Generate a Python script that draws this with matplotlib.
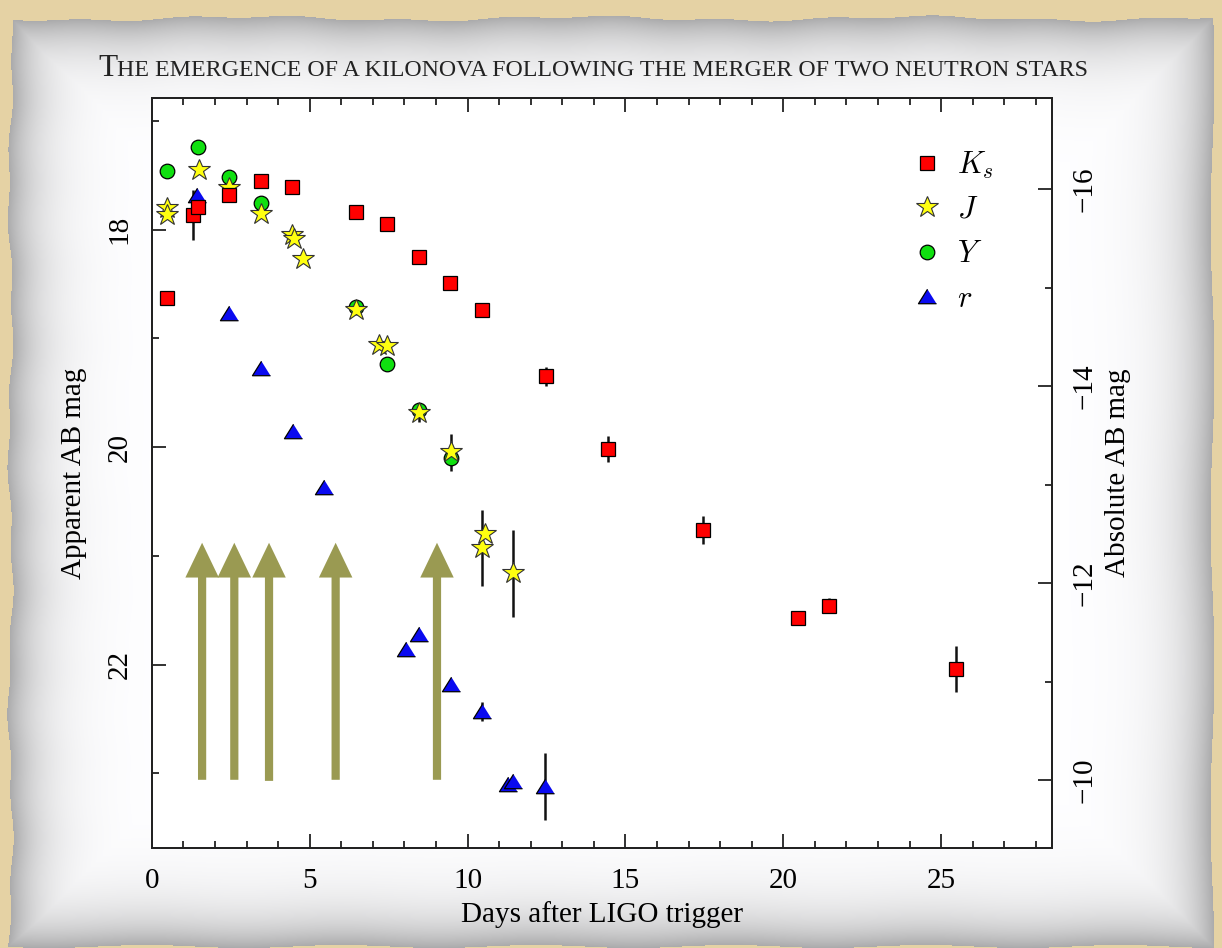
import numpy as np
import matplotlib
matplotlib.use("Agg")
import matplotlib.pyplot as plt
from matplotlib.patches import FancyArrow

plt.rcParams['font.family'] = ['Liberation Serif', 'DejaVu Serif']
plt.rcParams['mathtext.fontset'] = 'cm'

# ---- data ----
ks_days = [0.47, 1.31, 1.47, 2.45, 3.46, 4.45, 6.47, 7.46, 8.45, 9.44, 10.45,
           12.47, 14.45, 17.45, 20.45, 21.44, 25.47]
ks_mag = [18.63, 17.87, 17.79, 17.68, 17.55, 17.61, 17.84, 17.95, 18.25, 18.49, 18.74,
          19.35, 20.02, 20.76, 21.57, 21.46, 22.04]
ks_err = [0, 0.23, 0, 0, 0, 0, 0, 0, 0, 0, 0,
          0.09, 0.12, 0.13, 0, 0.07, 0.21]

j_days = [0.47, 0.49, 1.50, 2.45, 3.47, 4.43, 4.49, 4.80, 6.47, 7.20, 7.46,
          8.47, 9.47, 10.45, 10.55, 11.45]
j_mag = [17.80, 17.87, 17.45, 17.62, 17.86, 18.05, 18.09, 18.27, 18.74, 19.06, 19.07,
         19.69, 20.05, 20.93, 20.80, 21.16]
j_err = [0, 0, 0, 0, 0, 0, 0, 0, 0, 0, 0,
         0.08, 0.17, 0.35, 0, 0.40]

y_days = [0.47, 1.47, 2.45, 3.47, 6.47, 7.46, 8.47, 9.47]
y_mag = [17.46, 17.24, 17.52, 17.76, 18.71, 19.24, 19.66, 20.10]

r_days = [1.44, 2.45, 3.45, 4.46, 5.45, 8.05, 8.47, 9.46, 10.47, 11.29, 11.45, 12.45]
r_mag = [17.68, 18.77, 19.27, 19.85, 20.37, 21.86, 21.72, 22.18, 22.43, 23.10, 23.07, 23.12]
r_err = [0, 0, 0, 0, 0, 0, 0, 0, 0.09, 0, 0, 0.31]

# spectra epochs (olive arrows)
arrow_days = [1.59, 2.61, 3.71, 5.82, 9.03]
arrow_base = [23.06, 23.06, 23.07, 23.06, 23.06]
arrow_tip = 20.88

W, H = 1222, 948
fig = plt.figure(figsize=(W / 100, H / 100), dpi=100)

# ---- paper background ----
bg = fig.add_axes([0, 0, 1, 1])
bg.axis('off')
yy, xx = np.mgrid[0:H, 0:W].astype(float)
top = 18 + 2 * np.sin(xx / 53.0) + 1.2 * np.sin(xx / 17.0)
left = 10 + 2 * np.sin(yy / 41.0) + 1.2 * np.sin(yy / 13.0)
right = 1212 + 2 * np.sin(yy / 47.0)
bottom = 946 + 1.5 * np.sin(xx / 31.0)
d = np.minimum.reduce([xx - left, yy - top, right - xx, bottom - yy])
shade = 1 - 0.33 * np.exp(-np.clip(d, 0, None) / 32.0)
paper = np.clip(np.dstack([shade, shade, shade * 1.005]), 0, 1)
tan = np.array([229, 210, 164]) / 255.0
paper[d < 0] = tan
bg.imshow(paper, extent=(0, W, H, 0), aspect='auto', interpolation='bilinear')
bg.set_xlim(0, W)
bg.set_ylim(H, 0)

# ---- main axes ----
ax = fig.add_axes([151.9 / W, 1 - 848.3 / H, (1051.7 - 151.9) / W, (848.3 - 98) / H])
ax.set_facecolor('white')
ax.set_xlim(0, 28.5)
ax.set_ylim(23.69, 16.79)

for xd, yb in zip(arrow_days, arrow_base):
    ax.add_patch(FancyArrow(xd, yb, 0, arrow_tip - yb, width=0.26, head_width=1.06,
                            head_length=0.32, length_includes_head=True,
                            color='#9a9a52', lw=0, zorder=1))

ebar = dict(color='#111111', lw=1.8, zorder=2)
for xs, ys, es in [(ks_days, ks_mag, ks_err), (j_days, j_mag, j_err), (r_days, r_mag, r_err)]:
    xs, ys, es = np.array(xs), np.array(ys), np.array(es)
    m = es > 0
    ax.vlines(xs[m], ys[m] - es[m], ys[m] + es[m], **ebar)

tri = [(0, 0.8), (-1, -0.8), (1, -0.8)]
h_y, = ax.plot(y_days, y_mag, 'o', ms=10.5, mfc='#10e010', mec='black', mew=0.9,
               ls='none', zorder=3)
h_r, = ax.plot(r_days, r_mag, marker=tri, ms=13, mfc='#0a0af0', mec='black', mew=0.9,
               ls='none', zorder=4)
h_j, = ax.plot(j_days, j_mag, '*', ms=16.5, mfc='#ffff10', mec='#333333', mew=0.8,
               ls='none', zorder=5)
h_k, = ax.plot(ks_days, ks_mag, 's', ms=9.8, mfc='#ff0000', mec='black', mew=0.9,
               ls='none', zorder=6)

leg = ax.legend([h_k, h_j, h_y, h_r], ['$K_s$', '$J$', '$Y$', '$r$'], loc='upper left',
                bbox_to_anchor=(0.81, 0.968), frameon=False, fontsize=22, numpoints=1,
                handlelength=1.2, handletextpad=0.4, labelspacing=0.5)

ax.set_xticks(np.arange(0, 26, 5))
ax.set_xticks(np.arange(0, 29, 1), minor=True)
ax.set_yticks([18, 20, 22])
ax.set_yticks([17, 19, 21, 23], minor=True)
ax.tick_params(which='both', direction='in', top=True, right=False, width=1.3, color='#222222')
ax.tick_params(which='major', length=10)
ax.tick_params(which='minor', length=5)
ax.tick_params(axis='x', labelsize=21, pad=14)
ax.tick_params(axis='y', labelsize=21, pad=14, labelrotation=90)
for lab in ax.get_yticklabels():
    lab.set_va('center')
for s in ax.spines.values():
    s.set_linewidth(1.4)
    s.set_color('#222222')

ax.set_xlabel('Days after LIGO trigger', fontsize=21, labelpad=5)
ax.set_ylabel('Apparent AB mag', fontsize=21, labelpad=14)

ax2 = ax.twinx()
ax2.set_ylim(-9.306, -16.927)
ax2.set_yticks([-16, -14, -12, -10])
ax2.set_yticks([-15, -13, -11], minor=True)
ax2.set_yticklabels(['\u221216', '\u221214', '\u221212', '\u221210'])
ax2.tick_params(which='both', direction='in', width=1.3, color='#222222')
ax2.tick_params(which='major', length=10)
ax2.tick_params(which='minor', length=5)
ax2.tick_params(axis='y', labelsize=21, pad=14, labelrotation=90)
for lab in ax2.get_yticklabels():
    lab.set_va('center')
for s in ax2.spines.values():
    s.set_linewidth(1.4)
    s.set_color('#222222')
ax2.set_ylabel('Absolute AB mag', fontsize=21, labelpad=6)

# title in small caps
yb_title = 1 - 76 / H
t1 = fig.text(98 / W, yb_title, 'T', fontsize=22.5, va='baseline', color='#222222')
fig.canvas.draw()
bb = t1.get_window_extent()
fig.text(bb.x1 / W, yb_title, 'HE EMERGENCE OF A KILONOVA FOLLOWING THE MERGER OF TWO NEUTRON STARS',
         fontsize=17.2, va='baseline', color='#222222')

fig.savefig('out.png', dpi=100)
